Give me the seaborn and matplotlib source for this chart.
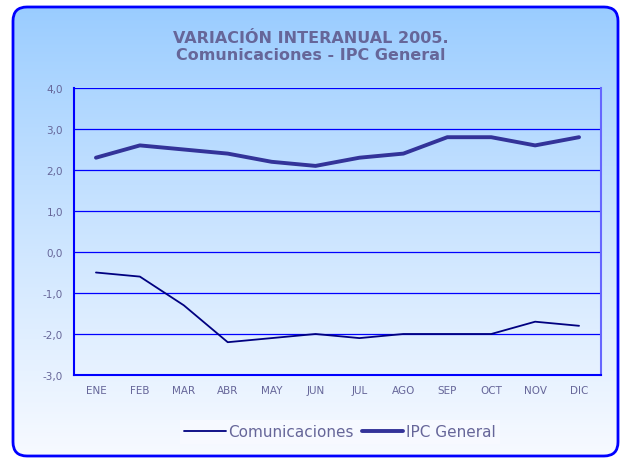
import numpy as np
import pandas as pd
import matplotlib
matplotlib.use("Agg")
import matplotlib.pyplot as plt
import seaborn as sns
from matplotlib.patches import FancyBboxPatch

# Data
meses = ["ENE", "FEB", "MAR", "ABR", "MAY", "JUN", "JUL", "AGO", "SEP", "OCT", "NOV", "DIC"]
comunicaciones = [-0.5, -0.6, -1.3, -2.2, -2.1, -2.0, -2.1, -2.0, -2.0, -2.0, -1.7, -1.8]
ipc_general = [2.3, 2.6, 2.5, 2.4, 2.2, 2.1, 2.3, 2.4, 2.8, 2.8, 2.6, 2.8]
y_ticks = [-3.0, -2.0, -1.0, 0.0, 1.0, 2.0, 3.0, 4.0]

df = pd.DataFrame({
    "mes": list(range(len(meses))) * 2,
    "valor": comunicaciones + ipc_general,
    "serie": ["Comunicaciones"] * len(meses) + ["IPC General"] * len(meses),
})

sns.set_style("white")
plt.rcParams["font.family"] = ["DejaVu Sans"]
txt = "#666699"

fig = plt.figure(figsize=(6.21, 4.60), dpi=100)
fig.patch.set_facecolor("white")

# background with gradient and rounded blue border
bg = fig.add_axes([0, 0, 1, 1], zorder=0)
bg.set_xlim(0, 621)
bg.set_ylim(460, 0)
bg.axis("off")
grad = np.linspace(0, 1, 256).reshape(-1, 1)
top = np.array([0.60, 0.80, 1.0])
bot = np.array([0.97, 0.98, 1.0])
img = top + (bot - top) * grad[..., None] ** 0.9
im = bg.imshow(img, extent=[12, 619, 458, 7], aspect="auto", zorder=0)
box = FancyBboxPatch((13, 8), 605, 449, boxstyle="round,pad=0,rounding_size=14",
                     facecolor="none", edgecolor="#0000ff", linewidth=2, zorder=2)
bg.add_patch(box)
im.set_clip_path(box)

ax = fig.add_axes([74 / 621, 84 / 460, 527 / 621, 287 / 460], zorder=1)
ax.patch.set_alpha(0)

sns.lineplot(data=df[df.serie == "Comunicaciones"], x="mes", y="valor",
             color="#000080", linewidth=1.3, ax=ax, label="Comunicaciones")
sns.lineplot(data=df[df.serie == "IPC General"], x="mes", y="valor",
             color="#333399", linewidth=2.8, ax=ax, label="IPC General")

ax.set_xlim(-0.5, len(meses) - 0.5)
ax.set_ylim(-3, 4)
ax.set_yticks(y_ticks)
ax.set_yticklabels([f"{v:.1f}".replace(".", ",") for v in y_ticks])
ax.set_xticks(np.arange(-0.5, len(meses), 1))
ax.set_xticklabels([])
ax.set_xticks(range(len(meses)), minor=True)
ax.set_xticklabels(meses, minor=True)
ax.tick_params(axis="x", which="major", length=4, color="#0000ff", direction="out")
ax.tick_params(axis="x", which="minor", length=0, pad=7, labelsize=7.5, labelcolor=txt)
ax.tick_params(axis="y", length=4, color="#0000ff", labelsize=7.5, labelcolor=txt, pad=4)
ax.set_xlabel("")
ax.set_ylabel("")

for v in y_ticks[1:]:
    ax.axhline(v, color="#0000ff", linewidth=0.9, zorder=0)
for s in ["left", "bottom"]:
    ax.spines[s].set_color("#0000ff")
    ax.spines[s].set_linewidth(1.5)
ax.spines["right"].set_color("#6666ff")
ax.spines["right"].set_linewidth(1.5)
ax.spines["top"].set_visible(False)

fig.text(0.5, 1 - 47 / 460, "VARIACIÓN INTERANUAL 2005.\nComunicaciones - IPC General",
         ha="center", va="center", fontsize=11.5, fontweight="bold", color=txt,
         linespacing=1.15)

leg = ax.legend(loc="center", bbox_to_anchor=(340 / 621, 1 - 433 / 460),
                bbox_transform=fig.transFigure, ncol=2, frameon=True,
                fontsize=11, handlelength=2.7, handletextpad=0.2, columnspacing=0.5,
                borderpad=0.3, fancybox=False)
leg.get_frame().set_facecolor("#f8faff")
leg.get_frame().set_edgecolor("none")
for t in leg.get_texts():
    t.set_color(txt)

fig.savefig("out.png", dpi=100, facecolor="white")
